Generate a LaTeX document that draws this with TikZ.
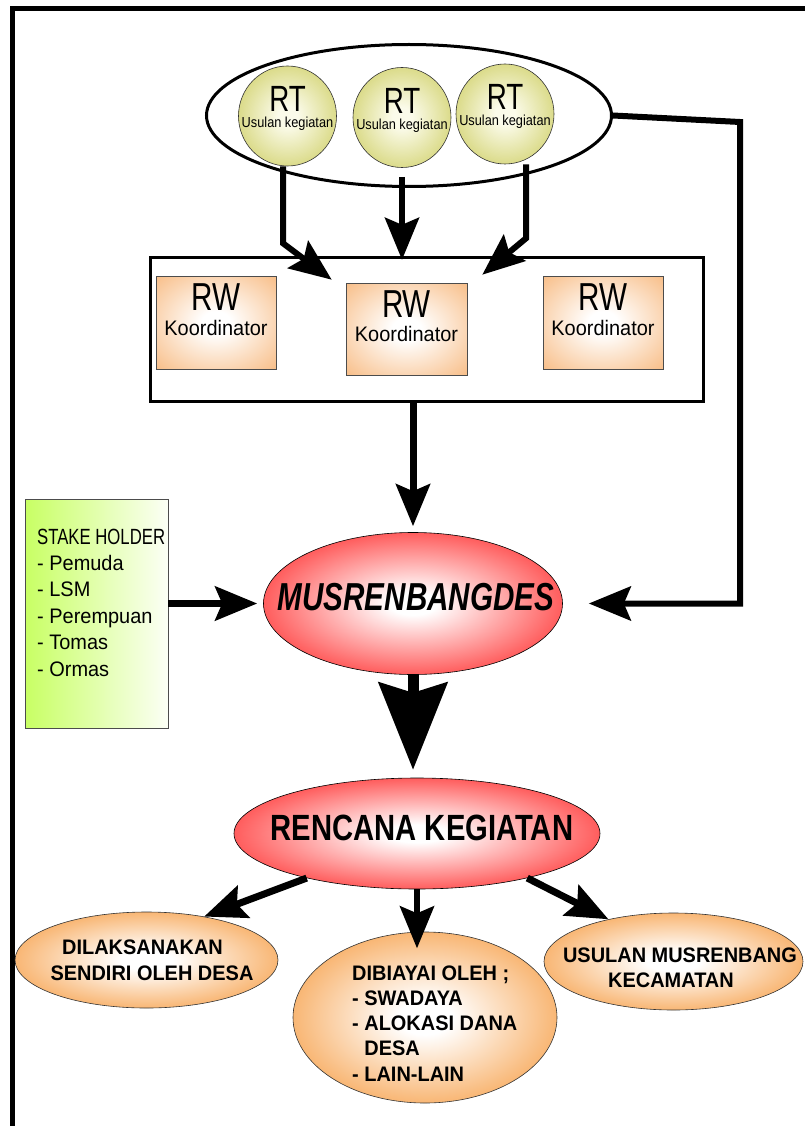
\documentclass[tikz,border=0pt]{standalone}
\usepackage{fontspec}
\setmainfont{Liberation Sans}
\newfontfamily\narrowfont[FakeStretch=0.76]{Liberation Sans}
\newfontfamily\planfont[FakeStretch=0.8]{Liberation Sans}
\newfontfamily\condfont[FakeStretch=0.88]{Liberation Sans}
\newfontfamily\slimfont[FakeStretch=0.95]{Liberation Sans}
\usetikzlibrary{arrows.meta, positioning, shapes.geometric}
\definecolor{rtEdge}{HTML}{CBCB5A}
\definecolor{rtCore}{HTML}{FBFBEA}
\definecolor{rwEdge}{HTML}{F8BF8A}
\definecolor{hubEdge}{HTML}{FF1010}
\definecolor{outEdge}{HTML}{F5922F}
\definecolor{shGreen}{HTML}{C8FF64}
\pgfdeclareradialshading{rtglow}{\pgfpoint{0bp}{0bp}}{color(0bp)=(rtCore); color(5bp)=(rtCore); color(35bp)=(rtEdge); color(50bp)=(rtEdge)}
\pgfdeclareradialshading{rwglow}{\pgfpoint{0bp}{0bp}}{color(0bp)=(white); color(6bp)=(white); color(35bp)=(rwEdge); color(50bp)=(rwEdge)}
\pgfdeclareradialshading{hubglow}{\pgfpoint{0bp}{0bp}}{color(0bp)=(white); color(4bp)=(white); color(35bp)=(hubEdge); color(50bp)=(hubEdge)}
\pgfdeclareradialshading{outglow}{\pgfpoint{0bp}{0bp}}{color(0bp)=(white); color(5bp)=(white); color(35bp)=(outEdge); color(50bp)=(outEdge)}
\newcommand{\fsz}[2]{\fontsize{#1}{#2}\selectfont}

\begin{document}
\begin{tikzpicture}[
    x=1pt, y=-1pt,
    rt/.style={ellipse, draw=black!80, line width=0.6pt, shade, shading=rtglow,
               minimum width=98pt, minimum height=100pt, inner sep=0pt},
    rw/.style={rectangle, draw=black!70, line width=0.6pt, shade, shading=rwglow, inner sep=0pt},
    hub/.style={ellipse, draw=black, line width=0.6pt, shade, shading=hubglow, inner sep=0pt},
    outcome/.style={ellipse, draw=black!80, line width=0.6pt, shade, shading=outglow, inner sep=0pt},
    txt/.style={anchor=base, inner sep=0pt},
    flow/.style={-{Stealth[length=42pt, width=34pt, inset=7pt]}, line width=6pt},
    bigflow/.style={-{Stealth[length=87pt, width=68pt, inset=10pt]}, line width=11pt},
  ]
  \useasboundingbox (0,0) rectangle (805,1126);
  \draw[line width=5pt] (12,1132) -- (12,9) -- (812,9);

  % RT level
  \node[ellipse, draw=black, line width=3pt, fill=white, inner sep=0pt,
        minimum width=405pt, minimum height=142pt] (rtgroup) at (409,115.5) {};
  \node[rt] (rt1) at (287.5,116) {};
  \node[rt] (rt2) at (402,117.5) {};
  \node[rt] (rt3) at (505,114) {};
  \foreach \n in {rt1,rt2,rt3} {
    \node[txt, font=\narrowfont\fsz{36.5}{36}] (\n-a) at ([yshift=4pt]\n.center) {RT};
    \node[txt, font=\condfont\fsz{14.5}{15}] (\n-b) at ([yshift=-12pt]\n.center) {Usulan kegiatan};
  }

  % RW level
  \node[rectangle, draw=black, line width=3pt, fill=white, inner sep=0pt,
        minimum width=553pt, minimum height=144pt] (rwgroup) at (427,329.5) {};
  \node[rw, minimum width=120pt, minimum height=93pt] (rw1) at (216,322.5) {};
  \node[rw, minimum width=121pt, minimum height=92pt] (rw2) at (406.5,329) {};
  \node[rw, minimum width=120pt, minimum height=93pt] (rw3) at (603,322.5) {};
  \foreach \n in {rw1,rw2,rw3} {
    \node[txt, font=\narrowfont\fsz{39}{39}] (\n-a) at ([yshift=12pt]\n.center) {RW};
    \node[txt, font=\slimfont\fsz{21}{21}] (\n-b) at ([yshift=-12.5pt]\n.center) {Koordinator};
  }

  \draw[flow] ([xshift=-4.5pt]rt1.south) -- ++(0,77) -- ([xshift=-14pt, yshift=3pt]rw2.north west);
  \draw[flow] ([yshift=-9pt]rt2.south) -- ++(0,83);
  \draw[flow] ([xshift=21pt]rt3.south) -- ++(0,74) -- ([xshift=15pt, yshift=8pt]rw2.north east);

  % musrenbangdes
  \node[hub, minimum width=299pt, minimum height=142pt] (musren) at (413,603.5) {};
  \node[txt, font=\narrowfont\bfseries\itshape\fsz{39}{39}] (musren-t)
    at ([xshift=3pt, yshift=-6.5pt]musren.center) {MUSRENBANGDES};

  \node[rectangle, draw=black!70, line width=0.6pt, left color=shGreen, right color=white!94!shGreen,
        inner sep=0pt, minimum width=143pt, minimum height=229pt] (stake) at (96.5,613.5) {};
  \node[txt, anchor=base west, font=\narrowfont\fsz{22}{22}] (stake-0) at (37,544) {STAKE HOLDER};
  \foreach \who [count=\k] in {Pemuda, LSM, Perempuan, Tomas, Ormas}
    \node[txt, anchor=base west, font=\slimfont\fsz{21}{21}] (stake-\k) at (37,{544+26.4*\k}) {- \who};

  \coordinate (loop) at (740,122);
  \draw[flow] (rtgroup.east) -- (loop) -- (loop |- musren.east) -- ([xshift=26pt]musren.east);
  \draw[flow, line width=7pt] (musren.north |- rwgroup.south) -- ([yshift=6pt]musren.north);
  \draw[flow, line width=7pt] (stake.east |- musren.west) -- ([xshift=-6pt]musren.west);

  % rencana kegiatan and its outcomes
  \node[hub, minimum width=366pt, minimum height=111pt] (plan) at (417,833.5) {};
  \node[txt, font=\planfont\bfseries\fsz{36.5}{36.5}] (plan-t)
    at ([xshift=5pt, yshift=-6.5pt]plan.center) {RENCANA KEGIATAN};
  \draw[bigflow] (musren.south) -- ++(0,95);

  \node[outcome, minimum width=263pt, minimum height=96pt] (sendiri) at (146.5,960) {};
  \node[outcome, minimum width=264pt, minimum height=171pt] (dana) at (425,1017.5) {};
  \node[outcome, minimum width=259pt, minimum height=97pt] (kec) at (673.5,961.5) {};

  \node[txt, font=\slimfont\bfseries\fsz{21}{21}] (sendiri-a) at (142.5,954) {DILAKSANAKAN};
  \node[txt, font=\slimfont\bfseries\fsz{21}{21}] (sendiri-b) at (152,980) {SENDIRI OLEH DESA};
  \foreach \line [count=\k] in {DIBIAYAI OLEH ;, - SWADAYA, - ALOKASI DANA, {\phantom{- }DESA}, - LAIN-LAIN}
    \node[txt, anchor=base west, font=\slimfont\bfseries\fsz{21}{21}] (dana-\k) at (352,{980+25.25*(\k-1)}) {\line};
  \node[txt, font=\slimfont\bfseries\fsz{21}{21}] (kec-a) at (680,962) {USULAN MUSRENBANG};
  \node[txt, font=\slimfont\bfseries\fsz{21}{21}] (kec-b) at (671,987) {KECAMATAN};

  \draw[flow, line width=7pt] (plan.202) -- (sendiri.37);
  \draw[flow] (plan.south) -- ++(0,59);
  \draw[flow, line width=7pt] (plan.-22) -- (kec.147);
\end{tikzpicture}
\end{document}
